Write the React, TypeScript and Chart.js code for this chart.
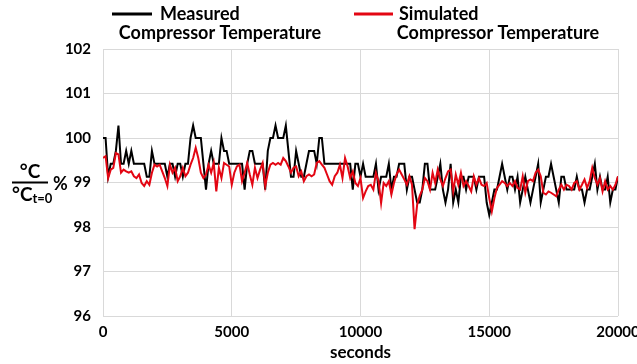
import React, { useEffect, useRef } from 'react';
import { Chart, registerables } from 'chart.js';

Chart.register(...registerables);

// sample times (seconds)
const times: number[] = [
  0, 100, 200, 300, 400, 500, 600, 700, 800, 900,
  1000, 1100, 1200, 1300, 1400, 1500, 1600, 1700, 1800, 1900,
  2000, 2100, 2200, 2300, 2400, 2500, 2600, 2700, 2800, 2900,
  3000, 3100, 3200, 3300, 3400, 3500, 3600, 3700, 3800, 3900,
  4000, 4100, 4200, 4300, 4400, 4500, 4600, 4700, 4800, 4900,
  5000, 5100, 5200, 5300, 5400, 5500, 5600, 5700, 5800, 5900,
  6000, 6100, 6200, 6300, 6400, 6500, 6600, 6700, 6800, 6900,
  7000, 7100, 7200, 7300, 7400, 7500, 7600, 7700, 7800, 7900,
  8000, 8100, 8200, 8300, 8400, 8500, 8600, 8700, 8800, 8900,
  9000, 9100, 9200, 9300, 9400, 9500, 9600, 9700, 9800, 9900,
  10000, 10100, 10200, 10300, 10400, 10500, 10600, 10700, 10800, 10900,
  11000, 11100, 11200, 11300, 11400, 11500, 11600, 11700, 11800, 11900,
  12000, 12100, 12200, 12300, 12400, 12500, 12600, 12700, 12800, 12900,
  13000, 13100, 13200, 13300, 13400, 13500, 13600, 13700, 13800, 13900,
  14000, 14100, 14200, 14300, 14400, 14500, 14600, 14700, 14800, 14900,
  15000, 15100, 15200, 15300, 15400, 15500, 15600, 15700, 15800, 15900,
  16000, 16100, 16200, 16300, 16400, 16500, 16600, 16700, 16800, 16900,
  17000, 17100, 17200, 17300, 17400, 17500, 17600, 17700, 17800, 17900,
  18000, 18100, 18200, 18300, 18400, 18500, 18600, 18700, 18800, 18900,
  19000, 19100, 19200, 19300, 19400, 19500, 19600, 19700, 19800, 19900,
  20000,
];

// Measured compressor temperature (% of value at t=0)
const measured: number[] = [
  100.0, 100.0, 99.13, 99.42, 99.42, 99.71, 100.28, 99.42, 99.42, 99.71,
  99.42, 99.71, 99.42, 99.42, 99.42, 99.42, 99.42, 99.13, 99.13, 99.71,
  99.42, 99.42, 99.42, 99.42, 99.42, 99.13, 99.42, 99.42, 99.13, 99.42,
  99.42, 99.13, 99.42, 99.42, 100.0, 100.28, 100.0, 100.0, 100.0, 99.42,
  98.84, 99.42, 99.71, 99.42, 99.42, 99.42, 100.0, 99.71, 99.71, 99.42,
  99.42, 99.42, 99.42, 99.42, 99.42, 98.84, 99.42, 99.71, 99.71, 99.42,
  99.42, 99.42, 99.42, 98.84, 99.71, 100.0, 100.0, 100.28, 100.0, 100.0,
  100.0, 100.28, 99.71, 99.13, 99.13, 99.71, 99.42, 99.13, 99.13, 99.42,
  99.71, 99.71, 99.71, 99.42, 100.0, 100.0, 99.42, 99.42, 99.42, 99.42,
  99.42, 99.42, 99.42, 99.42, 99.42, 99.42, 99.42, 98.84, 99.42, 99.42,
  99.13, 99.42, 99.13, 99.13, 99.13, 99.13, 99.42, 98.84, 99.13, 99.13,
  99.13, 99.42, 98.84, 99.13, 99.13, 99.42, 99.42, 99.42, 98.84, 99.13,
  99.13, 98.84, 98.55, 98.55, 98.84, 99.42, 99.42, 98.84, 98.84, 98.84,
  99.13, 99.42, 98.84, 98.55, 98.84, 99.42, 98.55, 98.84, 98.55, 99.13,
  99.13, 98.84, 99.13, 99.13, 99.13, 98.84, 99.13, 99.13, 99.13, 98.55,
  98.27, 98.55, 98.84, 98.84, 99.13, 99.42, 99.13, 98.84, 99.13, 99.13,
  98.84, 99.13, 98.55, 98.84, 99.13, 98.84, 98.55, 98.84, 99.13, 99.42,
  98.55, 98.84, 99.13, 99.13, 99.42, 99.13, 98.84, 98.55, 99.13, 99.13,
  98.84, 98.84, 98.84, 98.84, 99.13, 98.84, 98.84, 98.55, 98.84, 98.84,
  99.13, 99.42, 98.84, 99.13, 98.84, 98.84, 99.13, 98.55, 98.84, 98.84,
  99.13,
];

// Simulated compressor temperature (% of value at t=0)
const simulated: number[] = [
  99.55, 99.59, 99.10, 99.29, 99.33, 99.66, 99.63, 99.22, 99.29, 99.25,
  99.22, 99.25, 99.14, 99.10, 99.18, 98.99, 98.92, 99.03, 98.95, 99.22,
  99.40, 99.36, 99.40, 99.25, 99.10, 98.92, 99.40, 99.22, 99.33, 99.03,
  99.14, 99.33, 99.14, 99.22, 99.40, 99.55, 99.78, 99.55, 99.22, 99.10,
  99.18, 99.40, 99.22, 99.44, 98.80, 99.33, 99.10, 99.44, 99.40, 99.36,
  98.95, 99.22, 99.36, 99.40, 99.03, 99.22, 99.44, 99.18, 98.95, 99.33,
  99.10, 99.29, 99.44, 98.92, 99.22, 99.40, 99.44, 99.40, 99.44, 99.40,
  99.55, 99.48, 99.36, 99.22, 99.33, 99.36, 99.14, 99.25, 99.03, 99.14,
  99.18, 99.14, 99.18, 99.44, 99.48, 99.40, 99.33, 99.18, 99.03, 98.95,
  99.14, 99.22, 99.40, 99.10, 99.55, 99.36, 99.10, 99.25, 98.99, 98.92,
  99.10, 98.65, 98.80, 98.92, 98.95, 98.84, 99.22, 99.03, 98.54, 98.99,
  98.92, 99.03, 98.73, 98.99, 99.18, 99.29, 99.18, 99.07, 98.95, 99.14,
  98.95, 97.95, 98.50, 98.70, 98.84, 99.10, 99.03, 98.84, 99.22, 98.99,
  99.29, 99.07, 98.92, 99.10, 99.25, 99.29, 98.80, 99.18, 98.95, 99.22,
  98.92, 99.03, 98.92, 98.80, 99.14, 98.95, 99.10, 98.95, 98.92, 98.99,
  98.65, 98.35, 98.65, 98.88, 98.95, 99.03, 98.99, 98.92, 98.99, 98.92,
  99.03, 98.88, 98.84, 99.14, 98.77, 99.03, 99.07, 99.03, 99.22, 99.29,
  99.14, 98.77, 98.73, 98.80, 98.77, 98.73, 98.69, 98.84, 98.95, 98.84,
  98.95, 98.92, 98.84, 98.99, 99.03, 98.84, 98.95, 99.07, 98.88, 99.03,
  99.33, 99.10, 98.95, 99.10, 98.80, 99.03, 98.84, 98.92, 98.84, 98.95,
  99.14,
];

const seriesNames: string[][] = [
  ['Measured', 'Compressor Temperature'],
  ['Simulated', 'Compressor Temperature'],
];
const xTitle = 'seconds';
const yTitleTop = '°C';
const yTitleBottom = '°C';
const yTitleSub = 't=0';
const yTitleUnit = '%';

const BLACK = '#000000';
const RED = '#e30613';
const GRID = '#d9d9d9';
const FONT = 'Lato, "Open Sans", sans-serif';

const overlayPlugin = {
  id: 'overlay',
  afterDraw(chart: any) {
    const ctx: CanvasRenderingContext2D = chart.ctx;
    ctx.save();
    ctx.fillStyle = BLACK;
    ctx.textBaseline = 'middle';

    // legend
    const entries = [
      { color: BLACK, lineX: 112, lineW: 40, textX: 160, center2: 220 },
      { color: RED, lineX: 354, lineW: 39, textX: 399, center2: 498 },
    ];
    entries.forEach((e, i) => {
      ctx.strokeStyle = e.color;
      ctx.lineWidth = 3;
      ctx.beginPath();
      ctx.moveTo(e.lineX, 14);
      ctx.lineTo(e.lineX + e.lineW, 14);
      ctx.stroke();
      ctx.font = `bold 18px ${FONT}`;
      ctx.textAlign = 'left';
      ctx.fillText(seriesNames[i][0], e.textX, 14);
      ctx.textAlign = 'center';
      ctx.fillText(seriesNames[i][1], e.center2, 33);
    });

    // y-axis title as fraction
    const yMid = chart.scales.y.getPixelForValue(99);
    const barL = 12;
    const barR = 48;
    ctx.strokeStyle = BLACK;
    ctx.lineWidth = 2;
    ctx.beginPath();
    ctx.moveTo(barL, yMid);
    ctx.lineTo(barR, yMid);
    ctx.stroke();

    ctx.font = `bold 19px ${FONT}`;
    ctx.textAlign = 'center';
    ctx.fillText(yTitleTop, (barL + barR) / 2, yMid - 11);
    ctx.textAlign = 'left';
    ctx.fillText(yTitleBottom, barL, yMid + 12);
    const wb = ctx.measureText(yTitleBottom).width;
    ctx.font = `bold 13px ${FONT}`;
    ctx.fillText(yTitleSub, barL + wb, yMid + 16);
    ctx.font = `bold 18px ${FONT}`;
    ctx.fillText(yTitleUnit, 53, yMid + 2);

    ctx.restore();
  },
};

export default function App() {
  const ref = useRef<HTMLCanvasElement>(null);

  useEffect(() => {
    document.body.style.margin = '0';
    const canvas = ref.current;
    if (!canvas) return;
    const tickFont = { family: FONT, size: 15, weight: 'bold' as const };
    const chart = new Chart(canvas, {
      type: 'line',
      data: {
        datasets: [
          {
            label: seriesNames[1].join(' '),
            data: times.map((t, i) => ({ x: t, y: simulated[i] })),
            borderColor: RED,
            backgroundColor: RED,
            borderWidth: 2,
            pointRadius: 0,
            tension: 0,
          },
          {
            label: seriesNames[0].join(' '),
            data: times.map((t, i) => ({ x: t, y: measured[i] })),
            borderColor: BLACK,
            backgroundColor: BLACK,
            borderWidth: 2,
            pointRadius: 0,
            tension: 0,
          },
        ],
      },
      options: {
        animation: false,
        responsive: false,
        maintainAspectRatio: false,
        layout: { padding: { top: 49, left: 0, right: 0, bottom: 0 } },
        plugins: {
          legend: { display: false },
          tooltip: { enabled: false },
        },
        scales: {
          x: {
            type: 'linear',
            min: 0,
            max: 20000,
            ticks: {
              stepSize: 5000,
              font: tickFont,
              color: BLACK,
              padding: 7,
              maxRotation: 0,
              callback: (v: any) => String(v),
            },
            grid: { color: GRID, drawTicks: false, lineWidth: 1 },
            border: { display: false },
            title: {
              display: true,
              text: xTitle,
              color: BLACK,
              font: { family: FONT, size: 17, weight: 'bold' },
              padding: { top: 0, bottom: 1 },
            },
            afterFit: (s: any) => {
              s.height = 48;
              s.paddingRight = 19;
              s.paddingLeft = 0;
            },
          },
          y: {
            min: 96,
            max: 102,
            ticks: {
              stepSize: 1,
              font: tickFont,
              color: BLACK,
              padding: 12,
            },
            grid: { color: GRID, drawTicks: false, lineWidth: 1 },
            border: { display: false },
            afterFit: (s: any) => {
              s.width = 103;
            },
          },
        },
      },
      plugins: [overlayPlugin],
    });
    return () => chart.destroy();
  }, []);

  return (
    <div style={{ width: 637, height: 364, position: 'relative', background: '#fff' }}>
      <canvas ref={ref} width={637} height={364} style={{ display: 'block' }} />
    </div>
  );
}
